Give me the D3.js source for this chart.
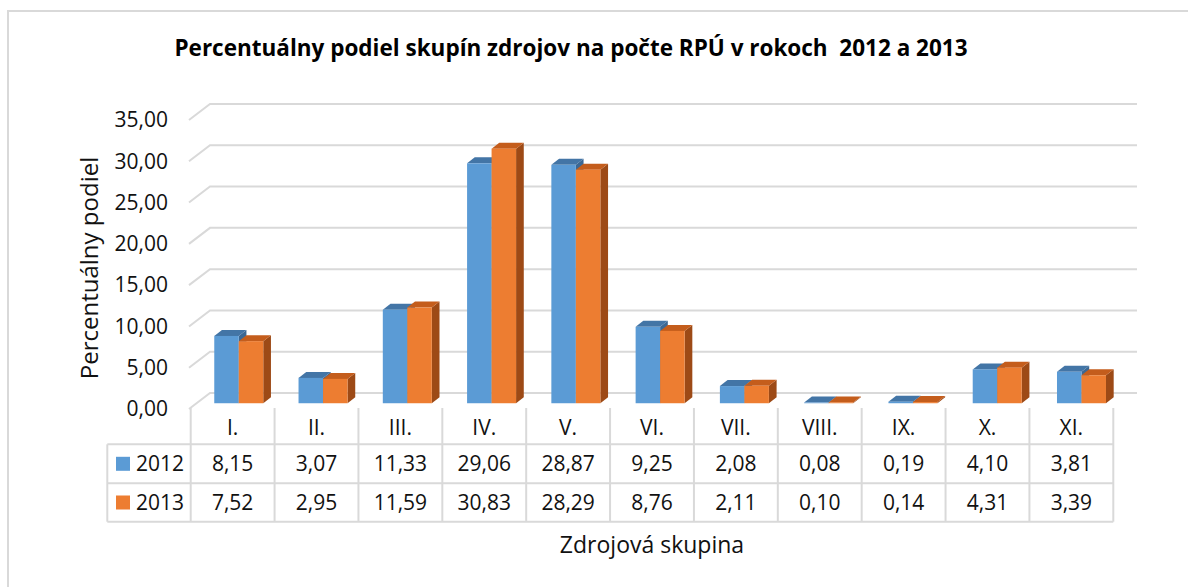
<!DOCTYPE html>
<html><head><meta charset="utf-8">
<script src="https://cdn.jsdelivr.net/npm/d3@7"></script>
<style>html,body{margin:0;padding:0;background:#fff;} svg{display:block;}</style>
</head><body>
<svg id="chart" width="1188" height="587"></svg>
<script>
const categories = ["I.","II.","III.","IV.","V.","VI.","VII.","VIII.","IX.","X.","XI."];
const series = ["2012","2013"];
const values2012 = [8.15,3.07,11.33,29.06,28.87,9.25,2.08,0.08,0.19,4.10,3.81];
const values2013 = [7.52,2.95,11.59,30.83,28.29,8.76,2.11,0.10,0.14,4.31,3.39];
const yTicks = [0,5,10,15,20,25,30,35];
const titleText = "Percentuálny podiel skupín zdrojov na počte RPÚ v rokoch  2012 a 2013";
const yTitle = "Percentuálny podiel";
const xTitle = "Zdrojová skupina";

const colors = {
  "2012": {front:"#5B9BD5", top:"#4375A6", side:"#3B6894"},
  "2013": {front:"#ED7D31", top:"#C45D1C", side:"#9D4A16"}
};
const FONT = "'Open Sans', 'Noto Sans', sans-serif";
const grid = "#d9d9d9";

const svg = d3.select("#chart");
const locale = d3.formatLocale({decimal:",", thousands:" ", grouping:[3], currency:["","€"]});
const fmt = locale.format(".2f");

// border
svg.append("rect").attr("x",8).attr("y",11).attr("width",1200).attr("height",600)
  .attr("fill","none").attr("stroke",grid).attr("stroke-width",2);

// 3D geometry
const floorFrontY = 409, depthDX = 21, depthDY = 16;
const yH = d3.scaleLinear().domain([0,35]).range([0,289]);
const x = d3.scaleBand().domain(categories).range([189,1116]);
const xs = d3.scaleBand().domain(series).range([17.7,66.7]);
const d0 = 0.36, ox = depthDX*d0, oy = depthDY*d0;
const barDX = 7.7, barDY = 6;
const baseY = floorFrontY - oy;

// gridlines: side wall diagonal + back wall
const gG = svg.append("g").attr("stroke",grid).attr("stroke-width",2).attr("fill","none");
yTicks.forEach(v=>{
  const yf = floorFrontY - yH(v), yb = yf - depthDY;
  gG.append("path").attr("d",`M189,${yf}L210,${yb}L1137,${yb}`);
});

// y labels
svg.append("g").selectAll("text").data(yTicks).join("text")
  .attr("x",168).attr("y",d=>floorFrontY - yH(d)).attr("dy","0.35em")
  .attr("text-anchor","end").attr("font-family",FONT).attr("font-size",21).attr("fill","#111")
  .text(d=>fmt(d));

// bars
const barsG = svg.append("g");
categories.forEach((c,i)=>{
  const vals = {"2012":values2012[i],"2013":values2013[i]};
  series.forEach(s=>{
    const v = vals[s];
    const x0 = x(c) + ox + xs(s), w = xs.bandwidth();
    const yt = baseY - yH(v);
    const col = colors[s];
    barsG.append("path").attr("fill",col.side)
      .attr("d",`M${x0+w},${baseY}L${x0+w+barDX},${baseY-barDY}L${x0+w+barDX},${yt-barDY}L${x0+w},${yt}Z`);
    barsG.append("path").attr("fill",col.top)
      .attr("d",`M${x0},${yt}L${x0+barDX},${yt-barDY}L${x0+w+barDX},${yt-barDY}L${x0+w},${yt}Z`);
    barsG.append("rect").attr("fill",col.front).attr("x",x0).attr("y",yt).attr("width",w).attr("height",baseY-yt);
  });
});

// data table
const tx = d3.scaleBand().domain(categories).range([190.7,1113.3]);
const rowY = [408,444.3,483.3,521.7];
const tG = svg.append("g").attr("stroke",grid).attr("stroke-width",2);
[...categories.map(c=>tx(c)), 1113.3].forEach(xx=>{
  tG.append("line").attr("x1",xx).attr("x2",xx).attr("y1",rowY[0]).attr("y2",rowY[3]);
});
tG.append("line").attr("x1",107.3).attr("x2",107.3).attr("y1",rowY[1]).attr("y2",rowY[3]);
[1,2,3].forEach(k=>{
  tG.append("line").attr("x1",107.3).attr("x2",1113.3).attr("y1",rowY[k]).attr("y2",rowY[k]);
});
const txt = svg.append("g").attr("font-family",FONT).attr("font-size",21).attr("fill","#111");
txt.selectAll("text.cat").data(categories).join("text").attr("class","cat")
  .attr("x",c=>tx(c)+tx.bandwidth()/2).attr("y",(rowY[0]+rowY[1])/2+1).attr("dy","0.35em")
  .attr("text-anchor","middle").text(c=>c);
const rows = [values2012, values2013];
series.forEach((s,k)=>{
  const cy = (rowY[k+1]+rowY[k+2])/2;
  txt.append("g").selectAll("text").data(rows[k]).join("text")
    .attr("x",(d,i)=>tx(categories[i])+tx.bandwidth()/2).attr("y",cy).attr("dy","0.35em")
    .attr("text-anchor","middle").text(d=>fmt(d));
  svg.append("rect").attr("x",116).attr("y",cy-7).attr("width",14).attr("height",14).attr("fill",colors[s].front);
  txt.append("text").attr("x",136).attr("y",cy).attr("dy","0.35em").text(s);
});

// titles
svg.append("text").attr("x",571).attr("y",48).attr("dy","0.35em").attr("text-anchor","middle")
  .attr("style","white-space:pre")
  .attr("font-family",FONT).attr("font-weight","bold").attr("font-size",22.5).attr("fill","#000").text(titleText);
svg.append("text").attr("transform","translate(90,268) rotate(-90)").attr("dy","0.35em").attr("text-anchor","middle")
  .attr("font-family",FONT).attr("font-size",24).attr("fill","#111").text(yTitle);
svg.append("text").attr("x",652).attr("y",545).attr("dy","0.35em").attr("text-anchor","middle")
  .attr("font-family",FONT).attr("font-size",23).attr("fill","#111").text(xTitle);
</script>
</body></html>
